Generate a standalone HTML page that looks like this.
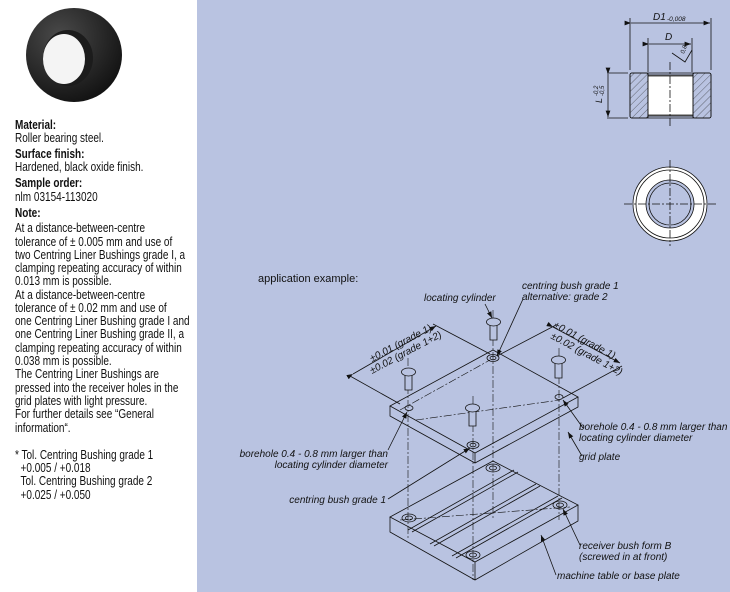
<!DOCTYPE html>
<html><head><meta charset="utf-8"><style>
html,body{margin:0;padding:0;width:730px;height:592px;overflow:hidden;background:#fff;font-family:"Liberation Sans",sans-serif;}
.l{position:absolute;left:15px;font-size:12.5px;line-height:14px;white-space:nowrap;transform:scaleX(0.8);transform-origin:0 50%;color:#111;}
.b{font-weight:bold;}
#blue{position:absolute;left:197px;top:0;width:533px;height:592px;background:#b9c3e1;}
svg text{font-family:"Liberation Sans",sans-serif;}
</style></head><body>
<svg style="position:absolute;left:0;top:0" width="197" height="110">
<defs><radialGradient id="g" cx="0.35" cy="0.3" r="0.8"><stop offset="0" stop-color="#4a4a4a"/><stop offset="1" stop-color="#0e0e0e"/></radialGradient></defs>
<ellipse cx="74" cy="55" rx="48" ry="47" fill="url(#g)"/>
<ellipse cx="68" cy="58" rx="25" ry="28" fill="#1c1c1c"/>
<ellipse cx="64" cy="59" rx="21" ry="25" fill="#f4f4f4"/>
</svg>
<div class="l b" style="top:118px">Material:</div>
<div class="l" style="top:131px">Roller bearing steel.</div>
<div class="l b" style="top:147px">Surface finish:</div>
<div class="l" style="top:160px">Hardened, black oxide finish.</div>
<div class="l b" style="top:176px">Sample order:</div>
<div class="l" style="top:190px">nlm 03154-113020</div>
<div class="l b" style="top:206px">Note:</div>
<div class="l" style="top:221px">At a distance-between-centre</div>
<div class="l" style="top:235px">tolerance of ± 0.005 mm and use of</div>
<div class="l" style="top:248px">two Centring Liner Bushings grade I, a</div>
<div class="l" style="top:261px">clamping repeating accuracy of within</div>
<div class="l" style="top:274px">0.013 mm is possible.</div>
<div class="l" style="top:288px">At a distance-between-centre</div>
<div class="l" style="top:301px">tolerance of ± 0.02 mm and use of</div>
<div class="l" style="top:314px">one Centring Liner Bushing grade I and</div>
<div class="l" style="top:327px">one Centring Liner Bushing grade II, a</div>
<div class="l" style="top:341px">clamping repeating accuracy of within</div>
<div class="l" style="top:354px">0.038 mm is possible.</div>
<div class="l" style="top:367px">The Centring Liner Bushings are</div>
<div class="l" style="top:381px">pressed into the receiver holes in the</div>
<div class="l" style="top:394px">grid plates with light pressure.</div>
<div class="l" style="top:407px">For further details see “General</div>
<div class="l" style="top:421px">information“.</div>
<div class="l" style="top:448px">* Tol. Centring Bushing grade 1</div>
<div class="l" style="top:461px">&nbsp;&nbsp;+0.005 / +0.018</div>
<div class="l" style="top:474px">&nbsp;&nbsp;Tol. Centring Bushing grade 2</div>
<div class="l" style="top:488px">&nbsp;&nbsp;+0.025 / +0.050</div>
<div id="blue"></div>
<svg style="position:absolute;left:0;top:0" width="730" height="592" fill="none" stroke="#111" stroke-width="0.8">
<defs>
<pattern id="h" width="5" height="5" patternUnits="userSpaceOnUse" patternTransform="rotate(45)"><line x1="0" y1="0" x2="0" y2="5" stroke="#222" stroke-width="0.6"/></pattern>
<marker id="a" markerWidth="8" markerHeight="6" refX="8" refY="3" orient="auto"><path d="M0 0 L8 3 L0 6z" fill="#111" stroke="none"/></marker>
</defs>
<rect x="630" y="73" width="18" height="45" rx="2" fill="url(#h)"/>
<rect x="693" y="73" width="18" height="45" rx="2" fill="url(#h)"/>
<rect x="648" y="75" width="45" height="41" fill="#fff"/>
<rect x="630" y="73" width="81" height="45" rx="2"/>
<line x1="648" y1="73" x2="648" y2="118"/><line x1="693" y1="73" x2="693" y2="118"/>
<line x1="648" y1="76" x2="693" y2="76"/><line x1="648" y1="115" x2="693" y2="115"/>
<line x1="670" y1="62" x2="670" y2="126" stroke-dasharray="8 2 2 2"/>
<line x1="630" y1="70" x2="630" y2="18"/><line x1="711" y1="70" x2="711" y2="18"/>
<line x1="631" y1="23" x2="710" y2="23" marker-end="url(#a)" marker-start="url(#a)"/>
<line x1="648" y1="72" x2="648" y2="38"/><line x1="692" y1="72" x2="692" y2="38"/>
<line x1="649" y1="44" x2="691" y2="44" marker-end="url(#a)" marker-start="url(#a)"/>
<line x1="607" y1="73" x2="628" y2="73"/><line x1="607" y1="118" x2="628" y2="118"/>
<line x1="608" y1="74" x2="608" y2="117" marker-end="url(#a)" marker-start="url(#a)"/>
<path d="M672 53 L685 62 L692 50"/>
<g fill="#111" stroke="none" font-style="italic">
<text x="653" y="20" font-size="10">D1</text><text x="667" y="21" font-size="6.5">-0,008</text>
<text x="665" y="40" font-size="10">D</text>
<text x="602" y="103" font-size="9" transform="rotate(-90 602 103)">L</text>
<text x="598" y="96" font-size="6" transform="rotate(-90 598 96)">-0,2</text>
<text x="604" y="96" font-size="6" transform="rotate(-90 604 96)">-0,5</text>
<text x="684" y="54" font-size="6" transform="rotate(-70 684 54)">0,8</text>
</g>
<circle cx="670" cy="204" r="37" fill="#fff"/><circle cx="670" cy="204" r="34"/>
<circle cx="670" cy="204" r="24" fill="#b9c3e1"/><circle cx="670" cy="204" r="21"/>
<line x1="624" y1="204" x2="716" y2="204" stroke-dasharray="8 2 2 2"/>
<line x1="670" y1="160" x2="670" y2="246" stroke-dasharray="8 2 2 2"/>
<g fill="#111" stroke="none" font-size="10" font-style="italic">
<text x="258" y="282" font-style="normal" font-size="11">application example:</text>
<text x="424" y="301">locating cylinder</text>
<text x="522" y="289">centring bush grade 1</text>
<text x="522" y="300">alternative: grade 2</text>
<text x="579" y="430">borehole 0.4 - 0.8 mm larger than</text>
<text x="579" y="441">locating cylinder diameter</text>
<text x="579" y="460">grid plate</text>
<text x="388" y="457" text-anchor="end">borehole 0.4 - 0.8 mm larger than</text>
<text x="388" y="468" text-anchor="end">locating cylinder diameter</text>
<text x="386" y="503" text-anchor="end">centring bush grade 1</text>
<text x="579" y="549">receiver bush form B</text>
<text x="579" y="560">(screwed in at front)</text>
<text x="557" y="579">machine table or base plate</text>
<text x="372" y="362" transform="rotate(-28 372 362)">±0.01 (grade 1)</text>
<text x="372" y="374" transform="rotate(-28 372 374)">±0.02 (grade 1+2)</text>
<text x="553" y="327" transform="rotate(28 553 327)">±0.01 (grade 1)</text>
<text x="550" y="338" transform="rotate(28 550 338)">±0.02 (grade 1+2)</text>
</g>
<path d="M390 406 L493 350 L578 397 L475 453 Z"/>
<path d="M390 406 L390 416 L475 463 L578 407 L578 397 M475 453 L475 463"/>
<path d="M390 517 L493 461 L578 505 L475 562 Z"/>
<path d="M390 517 L390 532 L475 580 L578 521 L578 505 M475 562 L475 580"/>
<path d="M408 530 L514 470 M412 532 L518 472 M430 544 L536 484 M434 546 L540 486 M452 556 L558 496 M456 558 L562 498"/>
<g stroke-dasharray="8 2 2 2" stroke-width="0.6">
<line x1="493" y1="310" x2="493" y2="520"/><line x1="408" y1="358" x2="408" y2="540"/>
<line x1="559" y1="348" x2="559" y2="520"/><line x1="473" y1="396" x2="473" y2="580"/>
<line x1="400" y1="410" x2="490" y2="360"/><line x1="416" y1="420" x2="560" y2="400"/>
<line x1="400" y1="520" x2="570" y2="507"/>
</g>
<g><ellipse cx="493" cy="358" rx="6" ry="3.5"/><ellipse cx="493" cy="358" rx="3" ry="1.8"/>
<ellipse cx="409" cy="408" rx="4" ry="2.5"/><ellipse cx="559" cy="397" rx="4" ry="2.5"/>
<ellipse cx="473" cy="445" rx="6" ry="3.5"/><ellipse cx="473" cy="445" rx="3" ry="1.8"/>
<ellipse cx="493" cy="468" rx="7" ry="4"/><ellipse cx="493" cy="468" rx="3.5" ry="2"/>
<ellipse cx="409" cy="518" rx="7" ry="4"/><ellipse cx="409" cy="518" rx="3.5" ry="2"/>
<ellipse cx="560" cy="505" rx="7" ry="4"/><ellipse cx="560" cy="505" rx="3.5" ry="2"/>
<ellipse cx="473" cy="555" rx="7" ry="4"/><ellipse cx="473" cy="555" rx="3.5" ry="2"/></g>
<g fill="#b9c3e1">
<path d="M490 324 h7 v16 h-7z"/><ellipse cx="493.5" cy="322" rx="7" ry="4"/>
<path d="M405 374 h7 v16 h-7z"/><ellipse cx="408.5" cy="372" rx="7" ry="4"/>
<path d="M555 362 h7 v16 h-7z"/><ellipse cx="558.5" cy="360" rx="7" ry="4"/>
<path d="M469 410 h7 v16 h-7z"/><ellipse cx="472.5" cy="408" rx="7" ry="4"/>
</g>
<line x1="353" y1="374" x2="436" y2="326" marker-end="url(#a)" marker-start="url(#a)"/>
<line x1="350" y1="376" x2="400" y2="404"/><line x1="433" y1="324" x2="490" y2="354"/>
<line x1="553" y1="327" x2="620" y2="363" marker-end="url(#a)" marker-start="url(#a)"/>
<line x1="556" y1="325" x2="497" y2="356"/><line x1="622" y1="366" x2="563" y2="398"/>
<g marker-end="url(#a)">
<line x1="485" y1="304" x2="492" y2="318"/><line x1="523" y1="299" x2="497" y2="356"/>
<line x1="583" y1="428" x2="563" y2="400"/><line x1="582" y1="456" x2="568" y2="432"/>
<line x1="388" y1="450" x2="407" y2="412"/><line x1="388" y1="499" x2="470" y2="448"/>
<line x1="580" y1="545" x2="563" y2="509"/><line x1="556" y1="575" x2="541" y2="535"/>
</g>
</svg>
</body></html>
